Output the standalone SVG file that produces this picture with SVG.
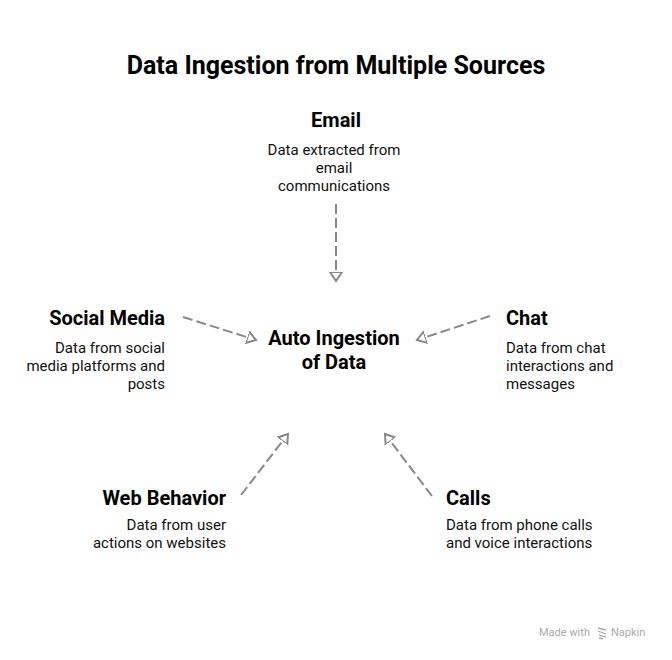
<svg xmlns="http://www.w3.org/2000/svg" width="672" height="660" viewBox="0 0 672 660">
<defs>
<style>
text{font-family:Roboto,"Liberation Sans",sans-serif;fill:#000}
.t{font-size:25px;font-weight:bold}
.h{font-size:20px;font-weight:bold}
.d{font-size:15px;fill:#111}
.c{stroke:#888;stroke-width:2;fill:none;stroke-dasharray:10 4}
.f{font-size:11px;fill:#aaa}
</style>
<marker id="ah" markerUnits="userSpaceOnUse" markerWidth="18" markerHeight="18" viewBox="-9 -9 18 18" refX="0" refY="0" orient="auto">
<path d="M0,0 L-9,-6 L-9,6 Z" fill="#fff" stroke="#888" stroke-width="2" stroke-linejoin="miter"/>
</marker>
</defs>
<rect width="672" height="660" fill="#fff"/>
<text class="t" x="336" y="74" text-anchor="middle">Data Ingestion from Multiple Sources</text>
<g id="connectors">
<path class="c" d="M336,204 L336,281" marker-end="url(#ah)"/>
<path class="c" d="M183,317 L256,340" marker-end="url(#ah)"/>
<path class="c" d="M490,316 L417,340" marker-end="url(#ah)"/>
<path class="c" d="M241,495 L288,434" marker-end="url(#ah)"/>
<path class="c" d="M432,496 L385,434" marker-end="url(#ah)"/>
</g>
<g id="center">
<text class="h" x="334" y="345" text-anchor="middle">Auto Ingestion</text>
<text class="h" x="334" y="369" text-anchor="middle">of Data</text>
</g>
<g id="email">
<text class="h" x="336" y="127" text-anchor="middle">Email</text>
<text class="d" x="334" y="155" text-anchor="middle">Data extracted from</text>
<text class="d" x="334" y="173" text-anchor="middle">email</text>
<text class="d" x="334" y="191" text-anchor="middle">communications</text>
</g>
<g id="social">
<text class="h" x="165" y="325" text-anchor="end">Social Media</text>
<text class="d" x="165" y="353" text-anchor="end">Data from social</text>
<text class="d" x="165" y="371" text-anchor="end">media platforms and</text>
<text class="d" x="165" y="389" text-anchor="end">posts</text>
</g>
<g id="chat">
<text class="h" x="506" y="325">Chat</text>
<text class="d" x="506" y="353">Data from chat</text>
<text class="d" x="506" y="371">interactions and</text>
<text class="d" x="506" y="389">messages</text>
</g>
<g id="web">
<text class="h" x="226" y="505" text-anchor="end">Web Behavior</text>
<text class="d" x="226" y="530" text-anchor="end">Data from user</text>
<text class="d" x="226" y="548" text-anchor="end">actions on websites</text>
</g>
<g id="calls">
<text class="h" x="446" y="505">Calls</text>
<text class="d" x="446" y="530">Data from phone calls</text>
<text class="d" x="446" y="548">and voice interactions</text>
</g>
<g id="footer">
<text class="f" x="539" y="636">Made with</text>
<path d="M598,628 L606,630 M598,631 L606,634 M599,635 L606,637 M599,638 L603,639" stroke="#aaa" stroke-width="1.3" fill="none"/>
<text class="f" x="611" y="636">Napkin</text>
</g>
</svg>
